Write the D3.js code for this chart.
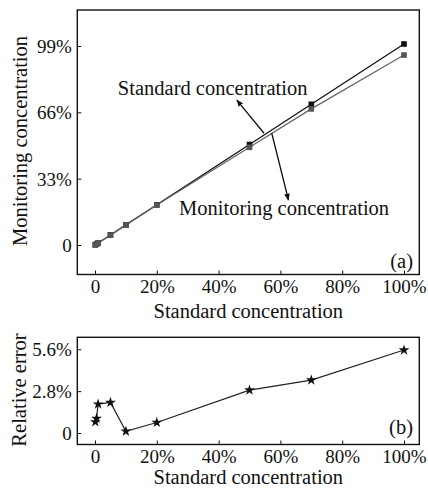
<!DOCTYPE html>
<html>
<head>
<meta charset="utf-8">
<script src="https://cdn.jsdelivr.net/npm/d3@7/dist/d3.min.js"></script>
<style>
  body { margin: 0; background: #fff; }
  svg { display: block; }
  text { font-family: "Liberation Serif", "Times New Roman", serif; fill: #111; }
</style>
</head>
<body>
<svg id="chart" width="428" height="488"></svg>
<script>
// standard concentration (%) used as x for both panels
const standardConc = [0.1, 0.5, 1, 5, 10, 20, 50, 70, 100];
// monitoring concentration
const monitoringConc = [0.1, 0.5, 1.0, 4.9, 10.0, 19.9, 48.6, 67.7, 94.5];
// relative error (%)
const relError = [0.74, 0.97, 1.93, 2.04, 0.11, 0.70, 2.87, 3.54, 5.55];

const xTicks = [0, 20, 40, 60, 80, 100];
const xTickLabels = ["0", "20%", "40%", "60%", "80%", "100%"];
const yTicksA = [0, 33, 66, 99];
const yTickLabelsA = ["0", "33%", "66%", "99%"];
const yTicksB = [0, 2.8, 5.6];
const yTickLabelsB = ["0", "2.8%", "5.6%"];

const svg = d3.select("#chart");
const W = 428;

//frame boxes for the two panels
const left = 77.3, right = 419.3;
const panelA = { top: 10, bottom: 274.5 };
const panelB = { top: 337.3, bottom: 444.5 };

const x = d3.scaleLinear().domain([0, 100]).range([95, 404]);
const yA = d3.scaleLinear().domain([0, 99]).range([245, 46]);
const yB = d3.scaleLinear().domain([0, 5.6]).range([433, 349.3]);

svg.append("rect").attr("width", W).attr("height", 488).attr("fill", "#fff");

svg.append("defs").append("marker")
    .attr("id", "arrow")
    .attr("viewBox", "0 0 10 10")
    .attr("refX", 9).attr("refY", 5)
    .attr("markerWidth", 7).attr("markerHeight", 7)
    .attr("markerUnits", "userSpaceOnUse")
    .attr("orient", "auto")
    .append("path").attr("d", "M0,1 L10,5 L0,9 Z").attr("fill", "#111");

function drawAxes(panel, y, yTicks, yLabels) {
    // x axis (ticks point inward)
    const gx = svg.append("g")
        .attr("transform", "translate(0," + panel.bottom + ")")
        .call(d3.axisBottom(x).tickValues(xTicks).tickSizeInner(-4).tickSizeOuter(0)
            .tickFormat((d, i) => xTickLabels[i]));
    gx.select(".domain").remove();
    gx.selectAll("text").attr("y", 18.5).attr("dy", 0).style("font-size", "19px")
        .attr("font-family", null);
    gx.selectAll("line").attr("stroke", "#111");

    const gy = svg.append("g")
        .attr("transform", "translate(" + left + ",0)")
        .call(d3.axisLeft(y).tickValues(yTicks).tickSizeInner(-4).tickSizeOuter(0)
            .tickFormat((d, i) => yLabels[i]));
    gy.select(".domain").remove();
    gy.selectAll("text").attr("x", -5.5).attr("dy", "0.34em").style("font-size", "19px")
        .attr("font-family", null);
    gy.selectAll("line").attr("stroke", "#111");

    svg.append("rect")
        .attr("x", left).attr("y", panel.top)
        .attr("width", right - left).attr("height", panel.bottom - panel.top)
        .attr("fill", "none").attr("stroke", "#111").attr("stroke-width", 1.4);
}

drawAxes(panelA, yA, yTicksA, yTickLabelsA);
drawAxes(panelB, yB, yTicksB, yTickLabelsB);

// panel (a) lines
const lineStd = d3.line().x((d, i) => x(standardConc[i])).y(d => yA(d));
svg.append("path").datum(standardConc)
    .attr("d", lineStd).attr("fill", "none").attr("stroke", "#111").attr("stroke-width", 1.3);
svg.append("path").datum(monitoringConc)
    .attr("d", lineStd).attr("fill", "none").attr("stroke", "#666").attr("stroke-width", 1.3);

svg.append("g").selectAll("rect").data(standardConc).join("rect")
    .attr("x", (d, i) => x(standardConc[i]) - 2.8)
    .attr("y", d => yA(d) - 2.8)
    .attr("width", 5.6).attr("height", 5.6).attr("fill", "#111");
svg.append("g").selectAll("rect").data(monitoringConc).join("rect")
    .attr("x", (d, i) => x(standardConc[i]) - 2.8)
    .attr("y", d => yA(d) - 2.8)
    .attr("width", 5.6).attr("height", 5.6).attr("fill", "#555");

// annotations (a)
svg.append("text").attr("x", x(7.4)).attr("y", yA(74.6))
    .style("font-size", "20.5px").text("Standard concentration");
svg.append("text").attr("x", x(27.2)).attr("y", yA(14.7))
    .style("font-size", "20.5px").text("Monitoring concentration");
svg.append("line")
    .attr("x1", x(54.7)).attr("y1", yA(55.6)).attr("x2", x(45.9)).attr("y2", yA(72.1))
    .attr("stroke", "#111").attr("stroke-width", 1.3).attr("marker-end", "url(#arrow)");
svg.append("line")
    .attr("x1", x(57.2)).attr("y1", yA(55.6)).attr("x2", x(62.6)).attr("y2", yA(22.4))
    .attr("stroke", "#111").attr("stroke-width", 1.3).attr("marker-end", "url(#arrow)");

svg.append("text").attr("x", 413).attr("y", 268).attr("text-anchor", "end")
    .style("font-size", "20.5px").text("(a)");

// panel (b)
const lineErr = d3.line().x((d, i) => x(standardConc[i])).y(d => yB(d));
svg.append("path").datum(relError)
    .attr("d", lineErr).attr("fill", "none").attr("stroke", "#222").attr("stroke-width", 1.2);
svg.append("g").selectAll("path").data(relError).join("path")
    .attr("transform", (d, i) => "translate(" + x(standardConc[i]) + "," + yB(d) + ")")
    .attr("d", d3.symbol(d3.symbolStar, 36)).attr("fill", "#111");

svg.append("text").attr("x", 413).attr("y", 434).attr("text-anchor", "end")
    .style("font-size", "20.5px").text("(b)");

// axis titles
svg.append("text").attr("x", (left + right) / 2).attr("y", 318).attr("text-anchor", "middle")
    .style("font-size", "20.5px").text("Standard concentration");
svg.append("text").attr("x", (left + right) / 2).attr("y", 484).attr("text-anchor", "middle")
    .style("font-size", "20.5px").text("Standard concentration");
svg.append("text").attr("transform", "translate(27,141) rotate(-90)").attr("text-anchor", "middle")
    .style("font-size", "20.5px").text("Monitoring concentration");
svg.append("text").attr("transform", "translate(25.5,390) rotate(-90)").attr("text-anchor", "middle")
    .style("font-size", "20.5px").text("Relative error");
</script>
</body>
</html>
